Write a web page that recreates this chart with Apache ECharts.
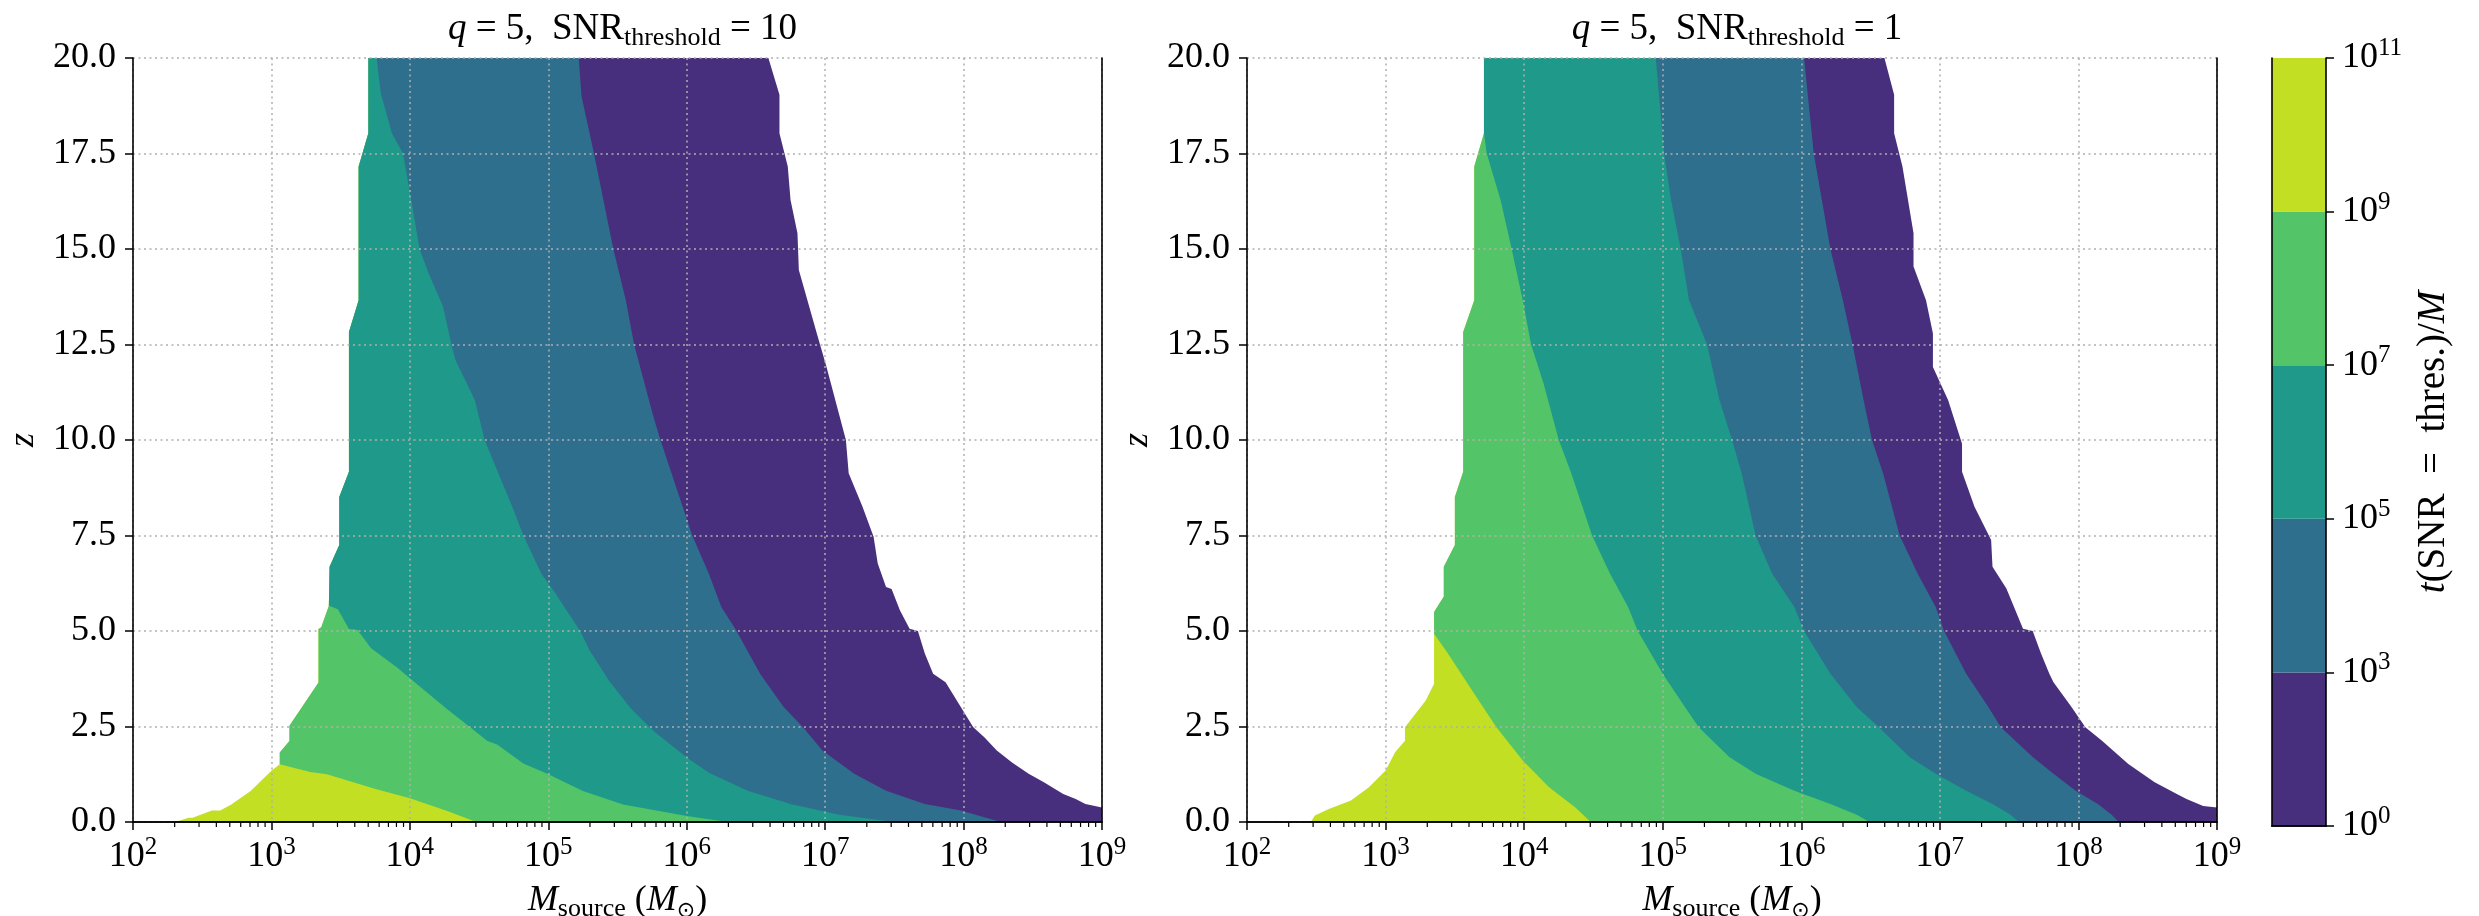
<!DOCTYPE html>
<html>
<head>
<meta charset="utf-8">
<script src="https://cdn.jsdelivr.net/npm/echarts@6/dist/echarts.min.js"></script>
<style>
  html, body { margin: 0; padding: 0; background: #fff; }
  #chart { width: 2479px; height: 916px; }
</style>
</head>
<body>
<div id="chart"></div>
<script>
// x values are log10(M_source / M_sun), y values are z
// contour boundaries, each as [log10 M, z] ascending in z

// --- q = 5, SNR_threshold = 10 ---
var thr10_edge = [[2.28,0],[2.34,0.04],[2.40,0.11],[2.43,0.11],[2.57,0.3],[2.63,0.3],[2.71,0.46],[2.85,0.81],[3.0,1.34],[3.06,1.51],[3.06,1.82],[3.13,2.12],[3.13,2.52],[3.34,3.65],[3.34,5.05],[3.36,5.1],[3.415,5.66],[3.42,6.68],[3.49,7.25],[3.49,8.51],[3.56,9.17],[3.56,12.83],[3.63,13.66],[3.63,17.16],[3.70,18.03],[3.70,20]];
var thr10_1e9 = [[4.48,0],[4.27,0.29],[4.0,0.62],[3.74,0.88],[3.40,1.25],[3.28,1.31],[3.06,1.51]];
var thr10_1e7 = [[6.30,0],[6.16,0.07],[6.0,0.16],[5.54,0.46],[5.25,0.81],[5.0,1.25],[4.82,1.53],[4.63,2.03],[4.56,2.12],[4.44,2.47],[4.27,2.95],[4.0,3.76],[3.91,4.04],[3.72,4.55],[3.62,5.03],[3.56,5.05],[3.48,5.57],[3.415,5.66]];
var thr10_1e5 = [[7.50,0],[7.10,0.19],[6.75,0.47],[6.44,0.82],[6.16,1.29],[6.0,1.69],[5.76,2.38],[5.59,3.0],[5.44,3.69],[5.30,4.48],[5.23,5.0],[5.04,6.05],[4.95,6.5],[4.82,7.5],[4.74,8.25],[4.63,9.21],[4.54,10],[4.47,11.04],[4.33,12.09],[4.30,12.5],[4.24,13.49],[4.13,14.41],[4.07,15],[4.01,16.28],[3.95,17.5],[3.87,18.03],[3.79,19.08],[3.76,20]];
var thr10_1e3 = [[8.27,0],[7.98,0.30],[7.72,0.47],[7.44,0.82],[7.21,1.26],[6.98,1.87],[6.84,2.48],[6.70,3.01],[6.53,3.88],[6.36,5.0],[6.25,5.63],[6.16,6.5],[6.04,7.5],[5.89,9.13],[5.81,10],[5.76,10.6],[5.62,12.5],[5.56,13.66],[5.47,15],[5.33,17.5],[5.24,19],[5.22,20]];
var thr10_1e0 = [[9,0],[9,0.38],[8.88,0.47],[8.81,0.6],[8.72,0.73],[8.58,1.04],[8.47,1.26],[8.35,1.56],[8.24,1.87],[8.15,2.22],[8.07,2.48],[7.98,3.01],[7.87,3.66],[7.78,3.88],[7.72,4.41],[7.67,5.0],[7.61,5.06],[7.54,5.54],[7.48,6.1],[7.44,6.15],[7.38,6.77],[7.35,7.47],[7.27,8.25],[7.17,9.13],[7.15,10],[7.01,11.91],[6.94,12.79],[6.81,14.45],[6.80,15.41],[6.75,16.28],[6.73,17.16],[6.67,18.03],[6.67,19.04],[6.59,20]];

// --- q = 5, SNR_threshold = 1 ---
var thr1_edge = [[2.46,0],[2.49,0.17],[2.59,0.34],[2.75,0.56],[2.88,0.91],[3.00,1.35],[3.07,1.83],[3.14,2.13],[3.14,2.48],[3.29,3.18],[3.35,3.62],[3.35,5.5],[3.42,5.9],[3.42,6.68],[3.50,7.25],[3.50,8.51],[3.56,9.17],[3.56,12.83],[3.64,13.66],[3.64,17.16],[3.71,18.03],[3.71,20]];
var thr1_1e9 = [[4.48,0],[4.37,0.38],[4.18,0.91],[3.99,1.61],[3.80,2.48],[3.64,3.36],[3.45,4.41],[3.35,4.93]];
var thr1_1e7 = [[6.49,0],[6.40,0.19],[6.21,0.47],[5.95,0.82],[5.67,1.26],[5.48,1.70],[5.26,2.48],[5.16,3.01],[5.00,3.88],[4.82,5.0],[4.75,5.63],[4.62,6.5],[4.49,7.5],[4.34,9.13],[4.25,10],[4.14,11.48],[4.05,12.5],[3.99,13.66],[3.91,15],[3.83,16.28],[3.73,17.5],[3.71,18.03]];
var thr1_1e5 = [[7.57,0],[7.51,0.19],[7.38,0.47],[7.19,0.82],[6.97,1.26],[6.78,1.70],[6.56,2.48],[6.40,3.01],[6.21,3.88],[6.02,5.0],[5.95,5.63],[5.79,6.5],[5.67,7.5],[5.57,9.13],[5.50,10],[5.41,11.04],[5.32,12.5],[5.19,13.66],[5.13,15],[5.06,16.28],[5.01,17.5],[4.95,20]];
var thr1_1e3 = [[8.29,0],[8.24,0.19],[8.14,0.47],[7.98,0.82],[7.82,1.26],[7.67,1.70],[7.44,2.48],[7.35,3.01],[7.19,3.88],[7.03,5.0],[6.97,5.63],[6.84,6.5],[6.71,7.5],[6.59,9.13],[6.51,10],[6.45,11.04],[6.37,12.5],[6.30,13.66],[6.21,15],[6.09,17.5],[6.02,20]];
var thr1_1e0 = [[9,0],[9,0.38],[8.90,0.42],[8.78,0.6],[8.71,0.73],[8.55,1.04],[8.36,1.52],[8.17,2.13],[8.05,2.48],[7.95,3.01],[7.82,3.66],[7.79,3.88],[7.73,4.41],[7.67,5.0],[7.60,5.06],[7.48,6.11],[7.38,6.68],[7.37,7.38],[7.25,8.25],[7.16,9.17],[7.16,9.9],[7.06,11.04],[6.95,11.91],[6.95,12.79],[6.90,13.66],[6.81,14.54],[6.81,15.41],[6.73,17.16],[6.67,18.03],[6.67,19.04],[6.60,20]];

var xExponents = [2, 3, 4, 5, 6, 7, 8, 9];
var cbExponents = [0, 3, 5, 7, 9, 11];
var yTickLabels = ['0.0', '2.5', '5.0', '7.5', '10.0', '12.5', '15.0', '17.5', '20.0'];
var titles = ['10', '1'];

// filled bands, from the left edge (highest level) to the right edge
var bandColors = ['#c2df23', '#53c568', '#1f9a8a', '#2e6f8e', '#472f7d', '#ffffff'];
var cbColors = ['#472f7d', '#2e6f8e', '#1f9a8a', '#53c568', '#c2df23'];

var FONT = '"Liberation Serif", "DejaVu Serif", serif';

// boundary k is only given where band k exists; above it, follow the previous one
function effective(bounds) {
  var eff = [];
  bounds.forEach(function (b, k) {
    if (k === 0) { eff.push(b.slice()); return; }
    var top = b[b.length - 1][1];
    eff.push(b.concat(eff[k - 1].filter(function (p) { return p[1] > top; })));
  });
  // region right of each boundary up to the right edge of the axes
  return eff.map(function (e) { return e.concat([[9, 20], [9, 0]]); });
}

var polys = [
  effective([thr10_edge, thr10_1e9, thr10_1e7, thr10_1e5, thr10_1e3, thr10_1e0]),
  effective([thr1_edge, thr1_1e9, thr1_1e7, thr1_1e5, thr1_1e3, thr1_1e0])
];

var minorTicks = [];
for (var n = 2; n < 9; n++) {
  for (var m = 2; m <= 9; m++) minorTicks.push([n + Math.log10(m), 0]);
}

var supRich = {
  b: { fontSize: 36, fontFamily: FONT, color: '#000', lineHeight: 44 },
  s: { fontSize: 25, fontFamily: FONT, color: '#000', lineHeight: 26, verticalAlign: 'top' }
};

var grids = [
  { left: 133, top: 58, width: 969, height: 764 },
  { left: 1247, top: 58, width: 970, height: 764 },
  { left: 2272, top: 58, width: 54, height: 768 }
];

var xAxis = [], yAxis = [], series = [];
var lineBlack = { show: true, lineStyle: { color: '#000', width: 1.6 } };
var gridLine = { show: true, lineStyle: { color: '#b0b0b0', width: 1.5, type: [2, 3.5] } };

[0, 1].forEach(function (g) {
  xAxis.push({
    gridIndex: g, type: 'value', min: 2, max: 9, interval: 1, z: 10,
    axisLine: lineBlack,
    axisTick: { show: true, length: 8, lineStyle: { color: '#000', width: 1.5 } },
    splitLine: gridLine,
    axisLabel: {
      margin: 13, color: '#000', rich: supRich,
      formatter: function (v) { return '{b|10}{s|' + xExponents[Math.round(v) - 2] + '}'; }
    },
    name: '{i|M}{sub|source} ({i|M}{sun|⊙})',
    nameLocation: 'middle', nameGap: 45,
    nameTextStyle: {
      fontSize: 36, fontFamily: FONT, color: '#000', lineHeight: 42,
      rich: {
        i: { fontSize: 36, fontFamily: FONT, fontStyle: 'italic', color: '#000', lineHeight: 42 },
        sub: { fontSize: 26, fontFamily: FONT, color: '#000', lineHeight: 24, verticalAlign: 'bottom' },
        sun: { fontSize: 22, fontFamily: '"DejaVu Sans", sans-serif', color: '#000', lineHeight: 24, verticalAlign: 'bottom' }
      }
    }
  });
  xAxis.push({
    gridIndex: g, type: 'value', min: 2, max: 9, position: 'top', z: 10,
    axisLine: lineBlack, axisTick: { show: false }, axisLabel: { show: false }, splitLine: { show: false }
  });
  yAxis.push({
    gridIndex: g, type: 'value', min: 0, max: 20, interval: 2.5, z: 10,
    axisLine: lineBlack,
    axisTick: { show: true, length: 8, lineStyle: { color: '#000', width: 1.5 } },
    splitLine: gridLine,
    axisLabel: {
      margin: 17, color: '#000', fontSize: 36, fontFamily: FONT,
      formatter: function (v) { return yTickLabels[Math.round(v / 2.5)]; }
    },
    name: 'z', nameLocation: 'middle', nameGap: 91, nameRotate: 90,
    nameTextStyle: { fontSize: 36, fontFamily: FONT, fontStyle: 'italic', color: '#000' }
  });
  yAxis.push({
    gridIndex: g, type: 'value', min: 0, max: 20, position: 'right', z: 10,
    axisLine: lineBlack, axisTick: { show: false }, axisLabel: { show: false }, splitLine: { show: false }
  });

  series.push({
    type: 'custom', xAxisIndex: 2 * g, yAxisIndex: 2 * g, silent: true, z: 2, clip: true,
    data: polys[g].map(function (p, k) { return [k, 0]; }),
    renderItem: function (params, api) {
      var k = params.dataIndex;
      return {
        type: 'polygon', z2: k,
        shape: { points: polys[g][k].map(function (p) { return api.coord(p); }) },
        style: { fill: bandColors[k] }
      };
    }
  });
  series.push({
    type: 'custom', xAxisIndex: 2 * g, yAxisIndex: 2 * g, silent: true, z: 12, clip: false,
    data: minorTicks,
    renderItem: function (params, api) {
      var p = api.coord([api.value(0), 0]);
      return {
        type: 'line',
        shape: { x1: p[0], y1: p[1], x2: p[0], y2: p[1] + 5 },
        style: { stroke: '#000', lineWidth: 1.2 }
      };
    }
  });
});

// colorbar
xAxis.push({
  gridIndex: 2, type: 'category', data: [''], z: 10,
  axisLine: lineBlack, axisTick: { show: false }, axisLabel: { show: false }, splitLine: { show: false }
});
xAxis.push({
  gridIndex: 2, type: 'category', data: [''], position: 'top', z: 10,
  axisLine: lineBlack, axisTick: { show: false }, axisLabel: { show: false }, splitLine: { show: false }
});
yAxis.push({
  gridIndex: 2, type: 'value', min: 0, max: 5, position: 'left', z: 10,
  axisLine: lineBlack, axisTick: { show: false }, axisLabel: { show: false }, splitLine: { show: false }
});
yAxis.push({
  gridIndex: 2, type: 'value', min: 0, max: 5, interval: 1, position: 'right', z: 10,
  axisLine: lineBlack,
  axisTick: { show: true, length: 8, lineStyle: { color: '#000', width: 1.5 } },
  splitLine: { show: false },
  axisLabel: {
    margin: 16, color: '#000', rich: supRich, align: 'left',
    formatter: function (v) { return '{b|10}{s|' + cbExponents[Math.round(v)] + '}'; }
  },
  name: '{i|t}(SNR  =  thres.)/{i|M}',
  nameLocation: 'middle', nameGap: 88, nameRotate: 90,
  nameTextStyle: {
    fontSize: 39, fontFamily: FONT, color: '#000',
    rich: { i: { fontSize: 39, fontFamily: FONT, fontStyle: 'italic', color: '#000' } }
  }
});
cbColors.forEach(function (c) {
  series.push({
    type: 'bar', xAxisIndex: 4, yAxisIndex: 4, stack: 'cb', barWidth: '100%', silent: true,
    itemStyle: { color: c }, data: [1]
  });
});

var titleRich = {
  i: { fontSize: 37, fontFamily: FONT, fontStyle: 'italic', color: '#000', lineHeight: 44 },
  sub: { fontSize: 26, fontFamily: FONT, color: '#000', lineHeight: 24, verticalAlign: 'bottom' }
};

var chart = echarts.init(document.getElementById('chart'), null, { renderer: 'canvas' });
chart.setOption({
  animation: false,
  backgroundColor: '#ffffff',
  title: [0, 1].map(function (g) {
    return {
      text: '{i|q} = 5,  SNR{sub|threshold} = ' + titles[g],
      left: grids[g].left + grids[g].width / 2, top: 2, textAlign: 'center',
      textStyle: { fontSize: 37, fontFamily: FONT, color: '#000', fontWeight: 'normal', lineHeight: 44, rich: titleRich }
    };
  }),
  grid: grids.map(function (gr) {
    return Object.assign({ containLabel: false, outerBoundsMode: 'none' }, gr);
  }),
  xAxis: xAxis,
  yAxis: yAxis,
  series: series
});
</script>
</body>
</html>
